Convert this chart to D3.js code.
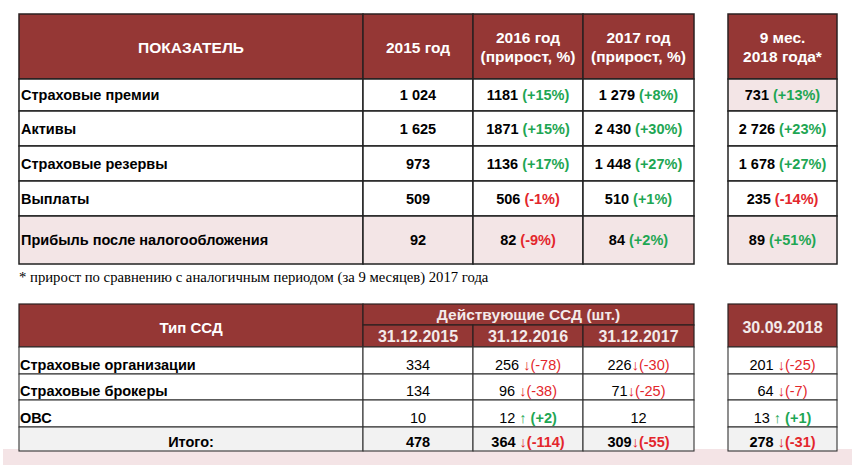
<!DOCTYPE html>
<html><head><meta charset="utf-8">
<script src="https://cdn.jsdelivr.net/npm/d3@7/dist/d3.min.js"></script>
<style>html,body{margin:0;padding:0;background:#fff;}svg{display:block;}</style>
</head><body>
<script>
// ---- Data: table 1 ----
const indicators = ["Страховые премии","Активы","Страховые резервы","Выплаты","Прибыль после налогообложения"];
const headers1 = [["ПОКАЗАТЕЛЬ"],["2015 год"],["2016 год","(прирост, %)"],["2017 год","(прирост, %)"]];
const header1Right = ["9 мес.","2018 года*"];
const val2015 = ["1 024","1 625","973","509","92"];
const val2016 = ["1181","1871","1136","506","82"];
const gr2016  = ["+15%","+15%","+17%","-1%","-9%"];
const val2017 = ["1 279","2 430","1 448","510","84"];
const gr2017  = ["+8%","+30%","+27%","+1%","+2%"];
const val2018 = ["731","2 726","1 678","235","89"];
const gr2018  = ["+13%","+23%","+27%","-14%","+51%"];
const footnote = "* прирост по сравнению с аналогичным периодом (за 9 месяцев) 2017 года";

// ---- Data: table 2 ----
const ssdTypes = ["Страховые организации","Страховые брокеры","ОВС","Итого:"];
const headers2 = ["Тип ССД","Действующие ССД (шт.)"];
const dates2 = ["31.12.2015","31.12.2016","31.12.2017"];
const date2Right = "30.09.2018";
const cnt2015 = [334,134,10,478];
const cnt2016 = [256,96,12,364];
const chg2016 = [-78,-38,2,-114];
const cnt2017 = [226,71,12,309];
const chg2017 = [-30,-25,null,-55];
const cnt2018 = [201,64,13,278];
const chg2018 = [-25,-7,1,-31];

// ---- Layout ----
const W = 852, H = 465;
const RED_HDR = "#953735", GREEN = "#1ea653", RED = "#e3262c", PINK = "#f3e5e6", GREY = "#f2f2f2";
const SANS = "'Liberation Sans', Arial, sans-serif";

const svg = d3.select("body").append("svg").attr("width", W).attr("height", H);

// background pink band at bottom
svg.append("rect").attr("x",3).attr("y",449).attr("width",W-3).attr("height",H-449).attr("fill","#f4e4e6");

// column scales (edges)
const colKeys = ["label","c2015","c2016","c2017"];
const colLeft = d3.scaleOrdinal().domain(colKeys).range([19,363,473,583]);
const colRight = d3.scaleOrdinal().domain(colKeys).range([363,473,583,694]);
const rX0 = 728, rX1 = 837;

// ---- Table 1 ----
const rowTop1 = d3.scaleOrdinal().domain(indicators).range([79,111,146,181,216]);
const rowBot1 = d3.scaleOrdinal().domain(indicators).range([111,146,181,216,264]);
const hTop1 = 14, hBot1 = 79;
const g1 = svg.append("g");

function cell(g, x0, y0, x1, y1, fill, stroke, sw) {
  g.append("rect").attr("x",x0).attr("y",y0).attr("width",x1-x0).attr("height",y1-y0)
    .attr("fill",fill).attr("stroke",stroke).attr("stroke-width",sw);
}

// header cells
colKeys.forEach((k,i) => {
  cell(g1, colLeft(k), hTop1, colRight(k), hBot1, RED_HDR, "#2b2020", 1.5);
  const lines = headers1[i];
  const cx = (colLeft(k)+colRight(k))/2;
  const cy = (hTop1+hBot1)/2;
  lines.forEach((t,j) => {
    g1.append("text").attr("x",cx).attr("y",cy + (j - (lines.length-1)/2)*19 + 6)
      .attr("text-anchor","middle").attr("font-family",SANS).attr("font-weight","bold")
      .attr("font-size",15.5).attr("fill","#fff").text(t);
  });
});
cell(g1, rX0, hTop1, rX1, hBot1, RED_HDR, "#2b2020", 1.5);
header1Right.forEach((t,j) => {
  g1.append("text").attr("x",(rX0+rX1)/2).attr("y",(hTop1+hBot1)/2 + (j-0.5)*19 + 6)
    .attr("text-anchor","middle").attr("font-family",SANS).attr("font-weight","bold")
    .attr("font-size",15.5).attr("fill","#fff").text(t);
});

function valText(g, cx, cy, v, gr) {
  const t = g.append("text").attr("x",cx).attr("y",cy+5).attr("text-anchor","middle")
    .attr("font-family",SANS).attr("font-weight","bold").attr("font-size",14.5).attr("fill","#000");
  t.append("tspan").text(v);
  if (gr != null) {
    t.append("tspan").attr("fill", gr.startsWith("-") ? RED : GREEN).text(" (" + gr + ")");
  }
}

indicators.forEach((name,i) => {
  const y0 = rowTop1(name), y1 = rowBot1(name), cy = (y0+y1)/2;
  const last = i === indicators.length-1;
  colKeys.forEach(k => cell(g1, colLeft(k), y0, colRight(k), y1, last ? PINK : "#fff", "#222", 1.5));
  cell(g1, rX0, y0, rX1, y1, (last || i===0) ? PINK : "#fff", "#222", 1.5);
  g1.append("text").attr("x",21).attr("y",cy+5).attr("font-family",SANS).attr("font-weight","bold")
    .attr("font-size",14.5).attr("fill","#000").text(name);
  valText(g1, (colLeft("c2015")+colRight("c2015"))/2, cy, val2015[i], null);
  valText(g1, (colLeft("c2016")+colRight("c2016"))/2, cy, val2016[i], gr2016[i]);
  valText(g1, (colLeft("c2017")+colRight("c2017"))/2, cy, val2017[i], gr2017[i]);
  valText(g1, (rX0+rX1)/2, cy, val2018[i], gr2018[i]);
});

svg.append("text").attr("x",19).attr("y",282).attr("font-family","'Liberation Serif', 'Times New Roman', serif")
  .attr("font-size",14.7).attr("fill","#000").text(footnote);

// ---- Table 2 ----
const g2 = svg.append("g");
const hTop2 = 304, hMid2 = 325, hBot2 = 347;
const rowTop2 = d3.scaleOrdinal().domain(ssdTypes).range([347,374,400,427]);
const rowBot2 = d3.scaleOrdinal().domain(ssdTypes).range([374,400,427,451]);

cell(g2, colLeft("label"), hTop2, colRight("label"), hBot2, RED_HDR, "#2b2020", 1.2);
g2.append("text").attr("x",(colLeft("label")+colRight("label"))/2).attr("y",(hTop2+hBot2)/2+7)
  .attr("text-anchor","middle").attr("font-family",SANS).attr("font-weight","bold").attr("font-size",15)
  .attr("fill","#fff").text(headers2[0]);
cell(g2, colLeft("c2015"), hTop2, colRight("c2017"), hMid2, RED_HDR, "#2b2020", 1.2);
g2.append("text").attr("x",(colLeft("c2015")+colRight("c2017"))/2).attr("y",(hTop2+hMid2)/2+5.5)
  .attr("text-anchor","middle").attr("font-family",SANS).attr("font-weight","bold").attr("font-size",15.5)
  .attr("fill","#f3eaea").text(headers2[1]);
["c2015","c2016","c2017"].forEach((k,i) => {
  cell(g2, colLeft(k), hMid2, colRight(k), hBot2, RED_HDR, "#2b2020", 1.2);
  g2.append("text").attr("x",(colLeft(k)+colRight(k))/2).attr("y",(hMid2+hBot2)/2+6)
    .attr("text-anchor","middle").attr("font-family",SANS).attr("font-weight","bold").attr("font-size",16)
    .attr("fill","#f3eaea").text(dates2[i]);
});
cell(g2, rX0, hTop2, rX1, hBot2, RED_HDR, "#2b2020", 1.2);
g2.append("text").attr("x",(rX0+rX1)/2).attr("y",(hTop2+hBot2)/2+7)
  .attr("text-anchor","middle").attr("font-family",SANS).attr("font-weight","bold").attr("font-size",16)
  .attr("fill","#f3eaea").text(date2Right);

function cntText(g, cx, by, v, ch, gap, bold) {
  const t = g.append("text").attr("x",cx).attr("y",by).attr("text-anchor","middle")
    .attr("font-family",SANS).attr("font-weight", bold ? "bold" : "normal").attr("font-size",14.5).attr("fill","#000");
  t.append("tspan").text(String(v));
  if (ch != null) {
    const neg = ch < 0;
    const c = neg ? RED : GREEN;
    t.append("tspan").attr("fill",c).attr("font-weight","normal").text((gap ? " " : "") + (neg ? "↓" : "↑"));
    t.append("tspan").attr("fill",c).attr("font-weight", (bold || !neg) ? "bold" : "normal")
      .text((neg ? "" : " ") + "(" + (neg ? "" : "+") + ch + ")");
  }
}

ssdTypes.forEach((name,i) => {
  const y0 = rowTop2(name), y1 = rowBot2(name);
  const total = i === ssdTypes.length-1;
  const fill = total ? GREY : "#fff";
  colKeys.forEach(k => cell(g2, colLeft(k), y0, colRight(k), y1, fill, "#333", 1.1));
  cell(g2, rX0, y0, rX1, y1, fill, "#333", 1.1);
  const by = y1 - 4;
  if (total) {
    g2.append("text").attr("x",(colLeft("label")+colRight("label"))/2).attr("y",by)
      .attr("text-anchor","middle").attr("font-family",SANS).attr("font-weight","bold").attr("font-size",14.5).text(name);
  } else {
    g2.append("text").attr("x",20).attr("y",by).attr("font-family",SANS).attr("font-weight","bold")
      .attr("font-size",14.5).text(name);
  }
  cntText(g2, (colLeft("c2015")+colRight("c2015"))/2, by, cnt2015[i], null, true, total);
  cntText(g2, (colLeft("c2016")+colRight("c2016"))/2, by, cnt2016[i], chg2016[i], true, total);
  cntText(g2, (colLeft("c2017")+colRight("c2017"))/2, by, cnt2017[i], chg2017[i], false, total);
  cntText(g2, (rX0+rX1)/2, by, cnt2018[i], chg2018[i], true, total);
});
</script>
</body></html>
